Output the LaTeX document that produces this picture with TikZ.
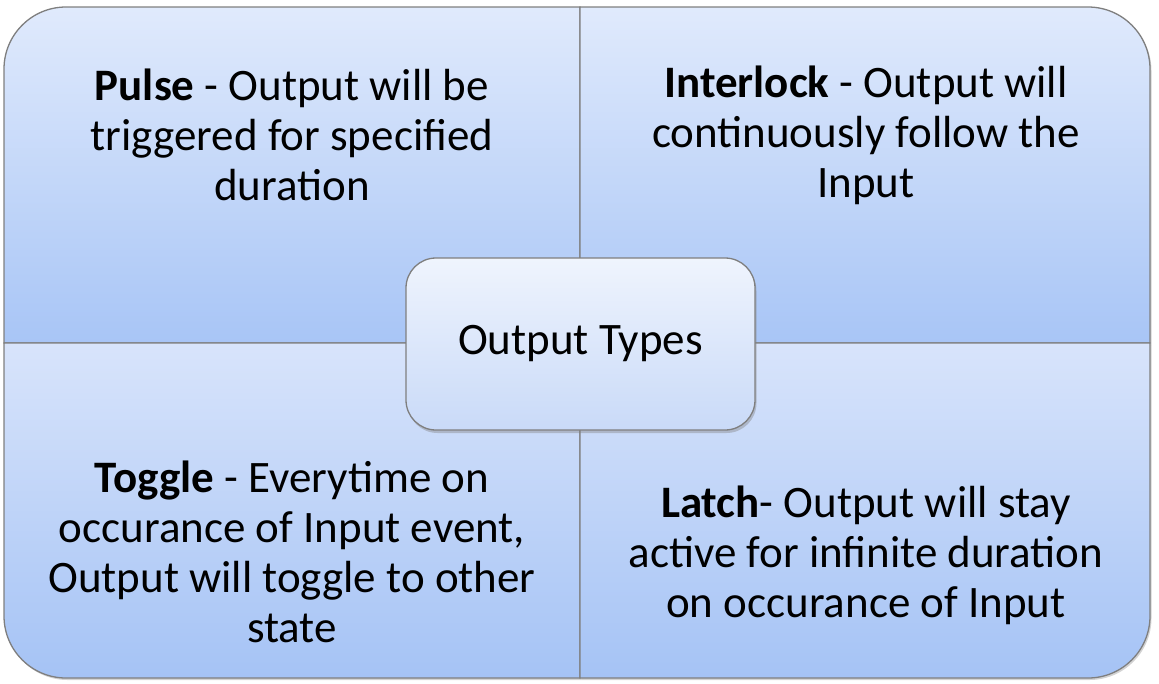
\documentclass[tikz,border=0pt]{standalone}
\usepackage{fontspec}
\setmainfont{Carlito}
\usetikzlibrary{shadows}
\definecolor{qtop}{HTML}{E0EAFC}
\definecolor{qbot}{HTML}{A8C5F6}
\definecolor{btop}{HTML}{D8E4FB}
\definecolor{bbot}{HTML}{A5C3F5}
\definecolor{ctop}{HTML}{EFF4FD}
\definecolor{cbot}{HTML}{C9DAF8}
\definecolor{edge}{HTML}{7F7F7F}
\tikzset{
  quad/.style={draw=edge, line width=1.3pt, top color=#1top, bottom color=#1bot,
    drop shadow={opacity=0.35, shadow xshift=1.5pt, shadow yshift=-2pt}},
  qtext/.style={align=center, font=\fontsize{45}{50}\selectfont, inner sep=0pt},
  centerbox/.style={draw=edge, line width=1.3pt, rounded corners=30pt, top color=ctop, bottom color=cbot,
    minimum width=349pt, minimum height=172pt, font=\fontsize{45}{50}\selectfont,
    drop shadow={opacity=0.4, shadow xshift=1.5pt, shadow yshift=-3pt}}
}
\begin{document}
\begin{tikzpicture}[x=1pt,y=-1pt]
\useasboundingbox (0,0) rectangle (1159,683);
% quadrants
\path[quad=q] (580,343) -- (4,343) [rounded corners=62pt] -- (4,7) [sharp corners] -- (580,7) -- cycle;
\path[quad=q] (580,343) -- (580,7) [rounded corners=62pt] -- (1150,7) [sharp corners] -- (1150,343) -- cycle;
\path[quad=b] (580,343) -- (4,343) [rounded corners=62pt] -- (4,678) [sharp corners] -- (580,678) -- cycle;
\path[quad=b] (580,343) -- (1150,343) [rounded corners=62pt] -- (1150,678) [sharp corners] -- (580,678) -- cycle;
% texts
\node[qtext] (pulse) at (292,135) {\textbf{Pulse} - Output will be\\triggered for specified\\duration};
\node[qtext] (interlock) at (866,135) {\textbf{Interlock} - Output will\\continuously follow the\\Input};
\node[qtext] (toggle) at (292,552) {\textbf{Toggle} - Everytime on\\occurance of Input event,\\Output will toggle to other\\state};
\node[qtext] (latch) at (866,555) {\textbf{Latch}- Output will stay\\active for infinite duration\\on occurance of Input};
% center
\node[centerbox] (center) at (580.5,344) {Output Types};
\end{tikzpicture}
\end{document}
